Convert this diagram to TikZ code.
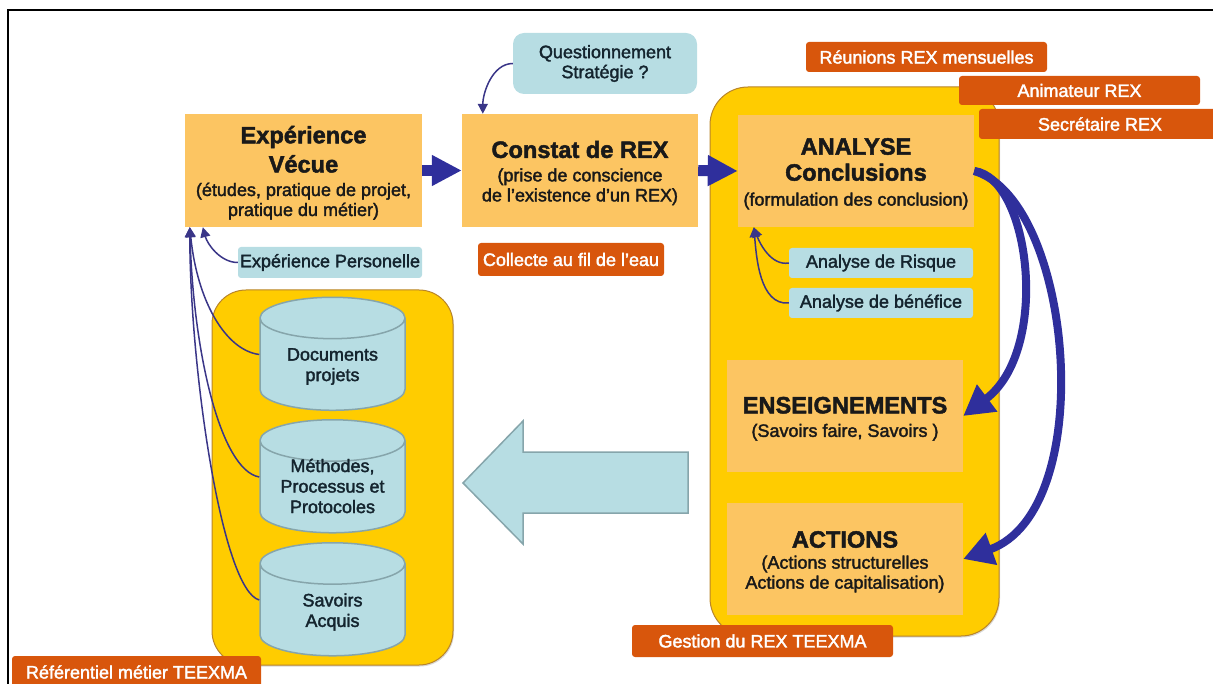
\documentclass[tikz,border=0pt]{standalone}
\usepackage{fontspec}
\setmainfont{Liberation Sans}
\newfontfamily\medfamily{Liberation Sans}[FakeBold=2]
\usetikzlibrary{shapes.geometric,arrows.meta,shadows}

\definecolor{panelyellow}{HTML}{FFCC00}
\definecolor{paneledge}{HTML}{B9852A}
\definecolor{boxorange}{HTML}{FCC562}
\definecolor{tagorange}{HTML}{D8560C}
\definecolor{noteblue}{HTML}{B7DDE3}
\definecolor{noteedge}{HTML}{86A5AB}
\definecolor{inkblue}{HTML}{2F2F9C}
\definecolor{thinblue}{HTML}{3A3688}
\definecolor{notetext}{HTML}{14242E}

\newcommand{\bigfont}{\fontsize{23.6}{28}\selectfont\bfseries}
\newcommand{\topgap}{\rule{0pt}{22pt}}
\newcommand{\storebody}{\phantom{\rule{92pt}{35pt}}}

\tikzset{
	panel/.style={shape=rectangle,draw=paneledge,line width=1pt,fill=panelyellow,inner sep=0pt,
		drop shadow={shadow xshift=1pt,shadow yshift=-1.5pt,opacity=.3}},
	stepbox/.style={shape=rectangle,fill=boxorange,inner sep=0pt,align=center,text=black!90,font=\fontsize{18}{20}\medfamily},
	tag/.style={shape=rectangle,rounded corners=3pt,fill=tagorange,inner sep=0pt,text=white,font=\fontsize{18}{20}\medfamily},
	note/.style={shape=rectangle,rounded corners=3pt,fill=noteblue,inner sep=0pt,align=center,text=notetext,font=\fontsize{18}{20}\medfamily},
	store/.style={shape=cylinder,shape border rotate=90,aspect=.45,cylinder uses custom fill,cylinder body fill=noteblue,cylinder end fill=noteblue,
		draw=noteedge,line width=1.5pt,inner sep=0pt,minimum width=145pt,minimum height=113pt},
	storetext/.style={shape=rectangle,inner sep=0pt,align=center,text=notetext,font=\fontsize{18}{20.5}\medfamily},
	fatarrow/.style={draw=inkblue,line width=11pt,-{Triangle[length=30pt,width=29pt]}},
	curvearrow/.style={draw=inkblue,line width=8pt,-{Triangle[length=30pt,width=32pt]}},
	thinarrow/.style={draw=thinblue,line width=1.5pt,-{Triangle[length=10pt,width=10pt]}}
}

\begin{document}
\begin{tikzpicture}[x=1pt,y=-1pt]
	\useasboundingbox (0,0) rectangle (1213,684);
	
	%frame
	\draw[line width=2pt] (7.5,684) -- (7.5,10) -- (1213,10);
	
	%panels
	\draw (854.5,361.5) node [panel,rounded corners=38pt,minimum width=289pt,minimum height=549pt] (rexpanel) {};
	\draw (332.5,477.5) node [panel,rounded corners=34pt,minimum width=241pt,minimum height=375pt] (metierpanel) {};
	
	%nodes
	\draw (303.5,170.5) node [stepbox,minimum width=237pt,minimum height=113pt] (vecue)
		{\topgap\bigfont Expérience\\[6pt]\bigfont Vécue\\[3.5pt](études, pratique de projet,\\pratique du métier)};
	\draw (580,170.5) node [stepbox,minimum width=236pt,minimum height=113pt] (constat)
		{\topgap\bigfont Constat de REX\\[3.5pt](prise de conscience\\de l’existence d’un REX)};
	\draw (856,171) node [stepbox,minimum width=236pt,minimum height=112pt] (analyse)
		{\topgap\bigfont ANALYSE\\[6pt]\bigfont Conclusions\\[5pt](formulation des conclusion)};
	\draw (845,416) node [stepbox,minimum width=236pt,minimum height=112pt] (enseign)
		{\topgap\bigfont ENSEIGNEMENTS\\[3.5pt](Savoirs faire, Savoirs )};
	\draw (845,559) node [stepbox,minimum width=236pt,minimum height=112pt] (actions)
		{\topgap\bigfont ACTIONS\\[1pt](Actions structurelles\\Actions de capitalisation)};
	
	%notes
	\draw (605,63.5) node [note,rounded corners=11pt,minimum width=184pt,minimum height=61pt] (question) {Questionnement\\Stratégie ?};
	\draw (330,262.5) node [note,minimum width=184pt,minimum height=31pt] (perso) {Expérience Personelle};
	\draw (881,263) node [note,minimum width=184pt,minimum height=30pt] (risque) {Analyse de Risque};
	\draw (881,303) node [note,minimum width=184pt,minimum height=30pt] (benefice) {Analyse de bénéfice};
	
	%cylinders
	\draw (332.5,364.5) node [store] (documents) {\storebody};
	\draw (332.5,487) node [store] (methodes) {\storebody};
	\draw (332.5,610) node [store] (savoirs) {\storebody};
	\draw (332.5,366.5) node [storetext] (documentstext) {Documents\\projets};
	\draw (332.5,486) node [storetext] (methodestext) {Méthodes,\\Processus et\\Protocoles};
	\draw (332.5,612) node [storetext] (savoirstext) {Savoirs\\Acquis};
	
	%big arrow
	\draw[draw=noteedge,line width=1.5pt,fill=noteblue] (463,483) -- (523,421) -- (523,452) -- (688,452) -- (688,513) -- (523,513) -- (523,544) -- cycle;
	
	%tags
	\draw (926.5,57) node [tag,minimum width=241pt,minimum height=30pt] (reunions) {Réunions REX mensuelles};
	\draw (1079.5,90.5) node [tag,minimum width=241pt,minimum height=29pt] (animateur) {Animateur REX};
	\draw (1100,124) node [tag,minimum width=242pt,minimum height=30pt] (secretaire) {Secrétaire REX};
	\draw (571,259.5) node [tag,minimum width=186pt,minimum height=33pt] (collecte) {Collecte au fil de l’eau};
	\draw (762.5,641) node [tag,minimum width=261pt,minimum height=32pt] (gestion) {Gestion du REX TEEXMA};
	\draw (136.5,672) node [tag,minimum width=249pt,minimum height=32pt] (referentiel) {Référentiel métier TEEXMA};
	
	%arrow ends
	\coordinate (vecueA) at ([xshift=5pt]vecue.south west);
	\coordinate (vecueB) at ([xshift=18pt]vecue.south west);
	\coordinate (constatA) at ([xshift=21pt]constat.north west);
	\coordinate (analyseA) at ([xshift=16pt]analyse.south west);
	\coordinate (documentsA) at ([yshift=10pt]documents.west);
	\coordinate (methodesA) at ([yshift=10pt]methodes.west);
	\coordinate (savoirsA) at ([yshift=10pt]savoirs.west);
	
	%lines
	\draw[fatarrow] (vecue.east) -- (constat.west);
	\draw[fatarrow] (constat.east) -- (analyse.west);
	\draw[curvearrow] (analyse.east) .. controls (1030,178) and (1051,350) .. (enseign.east);
	\draw[curvearrow] (analyse.east) .. controls (1073,200) and (1100,510) .. (actions.east);
	\draw[thinarrow] (question.west) to [out=180,in=90,looseness=.9] (constatA);
	\draw[thinarrow] (perso.west) to [out=180,in=-75,looseness=.9] (vecueB);
	\draw[thinarrow] (documentsA) .. controls (225,350) and (197,300) .. (vecueA);
	\draw[thinarrow] (methodesA) .. controls (220,470) and (193,350) .. (vecueA);
	\draw[thinarrow] (savoirsA) .. controls (222,590) and (190,370) .. (vecueA);
	\draw[thinarrow] (risque.west) to [out=190,in=-70,looseness=.9] (analyseA);
	\draw[thinarrow] (benefice.west) to [out=185,in=-85,looseness=.9] (analyseA);
\end{tikzpicture}
\end{document}
